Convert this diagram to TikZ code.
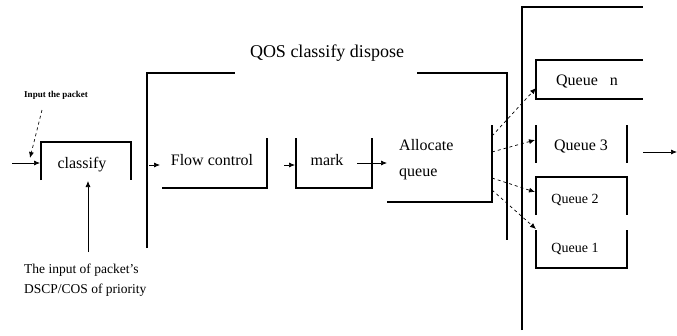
\documentclass[tikz,border=0pt]{standalone}
\usepackage{fontspec}
\setmainfont{Liberation Serif}
\usetikzlibrary{arrows.meta}
\begin{document}
\begin{tikzpicture}[x=1pt,y=-1pt,
  frame/.style={line width=1.1pt,black},
  arr/.style={-{Latex[length=6pt,width=5pt]},line width=0.7pt},
  darr/.style={arr,dashed},
  lbl/.style={font=\fontsize{16}{18}\selectfont,inner sep=0pt},
  small/.style={font=\fontsize{14}{16}\selectfont,inner sep=0pt}]
\useasboundingbox (0,0) rectangle (677,335);
% input label
\node[inner sep=0pt,font=\bfseries\fontsize{9}{11}\selectfont] (inp) at (56,95) {Input the packet};
\coordinate (inpA) at (42,110);
\coordinate (inpB) at (30,158);
\draw[darr] (inpA) -- (inpB);
% classify box
\draw[frame] (41,180) -- (41,142) -- (131,142) -- (131,180);
\node[lbl] (cls) at (82,165) {classify};
\coordinate (in0) at (12,163);
\coordinate (in1) at (40,163);
\draw[arr] (in0) -- (in1);
\coordinate (up0) at (88,252);
\coordinate (up1) at (88,181);
\draw[arr] (up0) -- (up1);
\node[inner sep=0pt,font=\fontsize{13.5}{20}\selectfont,align=left,anchor=north west] (note) at (24,264) {The input of packet's\\DSCP/COS of priority};
% QOS bracket
\draw[frame] (147,248) -- (147,73) -- (235,73);
\draw[frame] (417,73) -- (507,73) -- (507,240);
\node[inner sep=0pt,font=\fontsize{18}{20}\selectfont] (qos) at (327,53) {QOS classify dispose};
% flow control
\coordinate (fc0) at (149,165);
\coordinate (fc1) at (160,165);
\draw[arr] (fc0) -- (fc1);
\draw[frame] (162,188) -- (267,188) -- (267,138);
\node[lbl] (flow) at (212,160) {Flow control};
% mark
\coordinate (mk0) at (284,165);
\coordinate (mk1) at (295,165);
\draw[arr] (mk0) -- (mk1);
\draw[frame] (296,138) -- (296,188) -- (372,188) -- (372,138);
\node[lbl] (mark) at (327,160) {mark};
\coordinate (al0) at (357,163);
\coordinate (al1) at (387,163);
\draw[arr] (al0) -- (al1);
% allocate queue
\draw[frame] (387,202) -- (492,202) -- (492,125);
\node[lbl,align=left,anchor=west,font=\fontsize{16}{26}\selectfont] (alloc) at (399,160) {Allocate\\queue};
% right frame
\draw[frame] (522,330) -- (522,7) -- (643,7);
% queues
\draw[frame] (643,60) -- (536,60) -- (536,99) -- (643,99);
\node[lbl] (qn) at (587,81) {Queue \ \ n};
\draw[frame] (536,125) -- (536,163);
\draw[frame] (627,125) -- (627,163);
\node[lbl] (q3) at (581,146) {Queue 3};
\draw[frame] (536,215) -- (536,177) -- (627,177) -- (627,215);
\node[small] (q2) at (575,200) {Queue 2};
\draw[frame] (536,230) -- (536,268) -- (627,268) -- (627,230);
\node[small] (q1) at (575,249) {Queue 1};
% fan-out arrows
\coordinate (f1) at (492,136);
\coordinate (f2) at (492,152);
\coordinate (f3) at (492,178);
\coordinate (f4) at (492,190);
\coordinate (t1) at (536,88);
\coordinate (t2) at (535,140);
\coordinate (t3) at (535,192);
\coordinate (t4) at (536,229);
\draw[darr] (f1) -- (t1);
\draw[darr] (f2) -- (t2);
\draw[darr] (f3) -- (t3);
\draw[darr] (f4) -- (t4);
% output
\coordinate (o0) at (643,152);
\coordinate (o1) at (677,152);
\draw[arr] (o0) -- (o1);
\end{tikzpicture}
\end{document}
